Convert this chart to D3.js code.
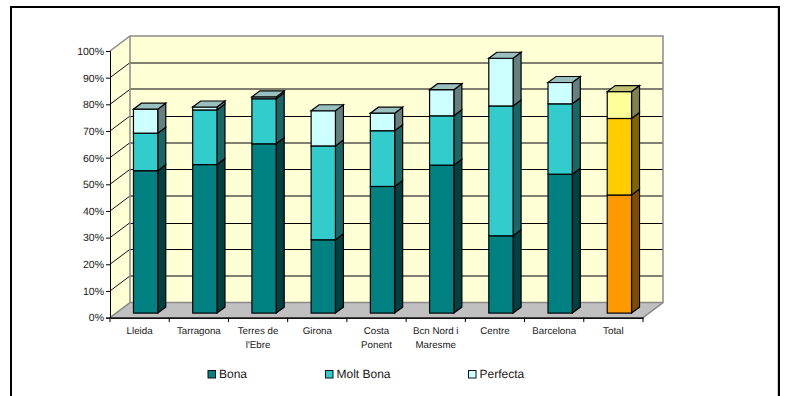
<!DOCTYPE html>
<html><head><meta charset="utf-8">
<script src="https://cdn.jsdelivr.net/npm/d3@7"></script>
<style>html,body{margin:0;padding:0;background:#fff}svg{display:block}text{font-family:"Liberation Sans",Arial,sans-serif;fill:#1a1a1a;text-rendering:geometricPrecision}</style>
</head><body><div id="c"></div>
<script>
const categories = ["Lleida","Tarragona","Terres de|l'Ebre","Girona","Costa|Ponent","Bcn Nord i|Maresme","Centre","Barcelona","Total"];
const bona     = [53.4,55.7,63.5,27.5,47.5,55.5,29.0,52.1,44.3];
const moltBona = [14.1,20.5,16.9,35.2,20.9,18.5,48.7,26.4,28.7];
const perfecta = [ 9.0, 1.1, 0.7,13.2, 6.6, 9.8,17.9, 8.0,10.1];
const seriesNames = ["Bona","Molt Bona","Perfecta"];
const seriesValues = [bona,moltBona,perfecta];
const yTicks = [0,10,20,30,40,50,60,70,80,90,100];
const heavyGrid = [10,40,60,80,90];
const colors = ["#008080","#33CCCC","#CCFFFF"];
const sideColors = ["#004040","#1A6666","#668080"];
const topColors = ["#006060","#269999","#99BFBF"];
const totalColors = ["#FF9900","#FFCC00","#FFFF99"];
const totalSide = ["#804D00","#806600","#808050"];
const totalTop = ["#BF7300","#BF9900","#BFBF73"];

const W=785,H=396;
const svg=d3.select("#c").append("svg").attr("width",W).attr("height",H);
const defs=svg.append("defs");
const pat=defs.append("pattern").attr("id","wall").attr("width",2).attr("height",2).attr("patternUnits","userSpaceOnUse");
pat.append("rect").attr("width",2).attr("height",2).attr("fill","#FFFFC8");
pat.append("rect").attr("width",1).attr("height",1).attr("fill","#FFFFE4");
pat.append("rect").attr("x",1).attr("y",1).attr("width",1).attr("height",1).attr("fill","#FFFFE4");

// frame (bottom edge lies outside the window)
svg.append("path").attr("d","M11,400V7H779V400").attr("fill","none").attr("stroke","#000").attr("stroke-width",2);
svg.append("line").attr("x1",777.5).attr("x2",777.5).attr("y1",8).attr("y2",396).attr("stroke","#ccc");

const x=d3.scaleBand().domain(categories).range([110,643]);
const y=d3.scaleLinear().domain([0,100]).range([317.6,51]);
const DX=20,DY=-15;
const gridY=v=>Math.round(y(v)+DY);
const pts=a=>a.map(p=>p.join(",")).join(" ");

const xL=x.range()[0],xR=x.range()[1];
// walls
svg.append("polygon").attr("points",pts([[xL,y(100)],[xL+DX,y(100)+DY],[xL+DX,y(0)+DY],[xL,y(0)]])).attr("fill","url(#wall)");
svg.append("rect").attr("x",xL+DX).attr("y",y(100)+DY).attr("width",xR-xL).attr("height",y(0)-y(100)).attr("fill","url(#wall)");
// floor
svg.append("polygon").attr("points",pts([[xL,y(0)],[xR,y(0)],[xR+DX,y(0)+DY],[xL+DX,y(0)+DY]])).attr("fill","#C0C0C0");

// grid
yTicks.filter(v=>v>0&&v<100).forEach(v=>{
  const heavy=heavyGrid.includes(v);
  const gy=gridY(v);
  svg.append("line").attr("x1",xL).attr("y1",y(v)).attr("x2",xL+DX).attr("y2",y(v)+DY).attr("stroke","#111").attr("stroke-width",1);
  svg.append("line").attr("x1",xL+DX).attr("x2",xR+DX)
    .attr("y1",heavy?gy:gy+.5).attr("y2",heavy?gy:gy+.5)
    .attr("stroke",heavy?"#808070":"#000").attr("stroke-width",heavy?2:1);
});
const gray="#8a8a8a";
svg.append("path").attr("d",`M${xL},${y(100)}L${xL+DX},${y(100)+DY}H${xR+DX}V${y(0)+DY}L${xR},${y(0)}`).attr("fill","none").attr("stroke",gray).attr("stroke-width",1.5);
svg.append("path").attr("d",`M${xL+DX},${y(100)+DY}V${y(0)+DY}L${xL},${y(0)}M${xL+DX},${y(0)+DY}H${xR+DX}`).attr("fill","none").attr("stroke",gray).attr("stroke-width",1.5);

// bars
const barW=24.3, f0=.3, f1=.7;
const barG=svg.append("g").attr("stroke","#000").attr("stroke-width",1.2).attr("stroke-linejoin","miter");
categories.forEach((c,i)=>{
  const isT=c==="Total";
  const x0=x(c)+(x.bandwidth()-barW)/2+DX*f0;
  const x1=x0+barW, ox=DX*(f1-f0), oy=DY*(f1-f0), lift=DY*f0;
  let cum=0;
  seriesValues.forEach((vals,s)=>{
    const yb=y(cum)+lift, yt=y(cum+vals[i])+lift;
    cum+=vals[i];
    barG.append("polygon").attr("points",pts([[x1,yb],[x1+ox,yb+oy],[x1+ox,yt+oy],[x1,yt]])).attr("fill",(isT?totalSide:sideColors)[s]);
    barG.append("rect").attr("x",x0).attr("y",yt).attr("width",barW).attr("height",yb-yt).attr("fill",(isT?totalColors:colors)[s]);
    if(s===seriesValues.length-1)
      barG.append("polygon").attr("points",pts([[x0,yt],[x1,yt],[x1+ox,yt+oy],[x0+ox,yt+oy]])).attr("fill",(isT?totalTop:topColors)[s]);
  });
});

// axes
const yAxis=d3.axisLeft(y).tickValues(yTicks).tickFormat(d=>d+"%").tickSize(4).tickPadding(2);
const gy=svg.append("g").attr("transform",`translate(${xL},0)`).call(yAxis);
gy.selectAll("text").attr("font-size",10.5).style("font-family",'"Liberation Sans"');
gy.selectAll("line,path").attr("stroke","#000").attr("stroke-width",1);

const xAxis=d3.axisBottom(x).tickSize(0).tickPadding(9).tickFormat("");
const gx=svg.append("g").attr("transform",`translate(0,${y(0)})`).call(xAxis);
gx.select("path").attr("stroke","#111").attr("stroke-width",1.6);
gx.selectAll(".tick text").each(function(d){
  const t=d3.select(this).text(null).attr("font-size",9.75).style("font-family",'"Liberation Sans"').attr("y",0).attr("dy",0);
  d.split("|").forEach((ln,k)=>t.append("tspan").attr("x",0).attr("y",16.4+k*14).text(ln));
});
categories.concat(["__end"]).forEach((c,i)=>{
  const tx=xL+i*x.step();
  svg.append("line").attr("x1",tx).attr("x2",tx).attr("y1",y(0)).attr("y2",y(0)+4.5).attr("stroke","#000");
});

// legend
const legendX=[207.5,325,468];
seriesNames.forEach((n,i)=>{
  svg.append("rect").attr("x",legendX[i]+.5).attr("y",370.5).attr("width",7.5).attr("height",7.5).attr("fill",colors[i]).attr("stroke","#111").attr("stroke-width",1);
  svg.append("text").attr("x",legendX[i]+11.5).attr("y",378).attr("font-size",12).text(n);
});
</script></body></html>
